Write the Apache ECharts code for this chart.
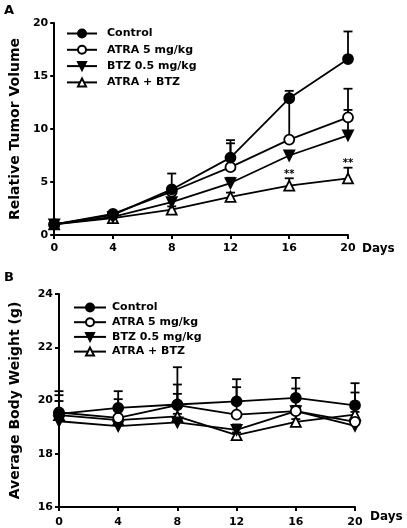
<!DOCTYPE html>
<html><head><meta charset="utf-8">
<script src="https://cdn.jsdelivr.net/npm/echarts@6/dist/echarts.min.js"></script>
<style>html,body{margin:0;padding:0;background:#fff}#c{width:407px;height:528px}</style>
</head><body><div id="c"></div>
<script>
const days = [0, 4, 8, 12, 16, 20];
const seriesNames = ['Control', 'ATRA 5 mg/kg', 'BTZ 0.5 mg/kg', 'ATRA + BTZ'];
const yTicksA = [0, 5, 10, 15, 20];
const yTicksB = [16, 18, 20, 22, 24];

// Panel A: relative tumor volume (mean, upper error)
const tumorControl = [1.0, 1.9, 4.3, 7.3, 12.9, 16.6];
const tumorControlErr = [0.1, 0.2, 1.5, 1.65, 0.7, 2.6];
const tumorAtra = [1.0, 2.0, 4.1, 6.4, 9.0, 11.1];
const tumorAtraErr = [0.1, 0.15, 0.4, 2.25, 3.9, 2.7];
const tumorBtz = [1.0, 1.7, 3.1, 4.9, 7.5, 9.4];
const tumorBtzErr = [0.1, 0.1, 0.3, 0.5, 0.4, 2.4];
const tumorCombo = [1.0, 1.6, 2.4, 3.6, 4.65, 5.35];
const tumorComboErr = [0.1, 0.1, 0.3, 0.4, 0.7, 1.0];
const tumorComboSig = ['', '', '', '', '**', '**'];

// Panel B: average body weight (g) (mean, upper error)
const weightControl = [19.5, 19.72, 19.85, 19.97, 20.1, 19.82];
const weightControlErr = [0.85, 0.63, 1.4, 0.83, 0.75, 0.83];
const weightAtra = [19.55, 19.35, 19.83, 19.47, 19.6, 19.2];
const weightAtraErr = [0.65, 0.7, 0.77, 1.03, 0.85, 1.1];
const weightBtz = [19.22, 19.04, 19.18, 18.9, 19.6, 19.05];
const weightBtzErr = [0.76, 0.3, 1.07, 0.2, 0.2, 0.15];
const weightCombo = [19.45, 19.26, 19.4, 18.7, 19.2, 19.47];
const weightComboErr = [0.1, 0.1, 0.1, 0.1, 0.1, 0.1];

const FONT = '"DejaVu Sans", "Liberation Sans", Arial, sans-serif';
const symbols = [
  {symbol: 'circle', color: '#000', rotate: 0},
  {symbol: 'circle', color: '#fff', rotate: 0},
  {symbol: 'triangle', color: '#000', rotate: 180},
  {symbol: 'triangle', color: '#fff', rotate: 0}
];

function pairs(vals) { return days.map((d, i) => [d, vals[i]]); }
function errData(vals, errs, sig) {
  return days.map((d, i) => [d, vals[i], vals[i] + errs[i], sig ? sig[i] : '']);
}
function errRender(params, api) {
  const p0 = api.coord([api.value(0), api.value(1)]);
  const p1 = api.coord([api.value(0), api.value(2)]);
  const sig = api.value(3);
  const children = [
    {type: 'line', shape: {x1: p0[0], y1: p0[1], x2: p1[0], y2: p1[1]}, style: {stroke: '#000', lineWidth: 1.8}},
    {type: 'line', shape: {x1: p1[0] - 4.5, y1: p1[1], x2: p1[0] + 4.5, y2: p1[1]}, style: {stroke: '#000', lineWidth: 1.8}}
  ];
  if (sig && sig !== '-' && sig !== '') {
    children.push({type: 'text', style: {text: sig, x: p1[0], y: p1[1] + 1, textAlign: 'center', textVerticalAlign: 'bottom', font: 'bold 10px ' + FONT, fill: '#000'}});
  }
  return {type: 'group', children: children};
}

function buildSeries(axisIdx, valsList, errsList, sigList) {
  const out = [];
  valsList.forEach((vals, k) => {
    out.push({
      type: 'custom', xAxisIndex: axisIdx, yAxisIndex: axisIdx, renderItem: errRender,
      data: errData(vals, errsList[k], sigList[k]), z: 2, silent: true,
      encode: {x: 0, y: [1, 2]}
    });
  });
  valsList.forEach((vals, k) => {
    const s = symbols[k];
    out.push({
      name: seriesNames[k], type: 'line', xAxisIndex: axisIdx, yAxisIndex: axisIdx,
      data: pairs(vals), symbol: s.symbol, symbolRotate: s.rotate, symbolSize: 10,
      showAllSymbol: true, z: 3 + (3 - k),
      lineStyle: {color: '#000', width: 1.8},
      itemStyle: {color: s.color, borderColor: '#000', borderWidth: 1.8},
      emphasis: {disabled: true}
    });
  });
  return out;
}

const axisCommon = {
  axisLine: {show: true, lineStyle: {color: '#000', width: 2}},
  axisTick: {show: true, length: 4, lineStyle: {color: '#000', width: 2}},
  axisLabel: {color: '#000', fontSize: 11, fontWeight: 'bold', fontFamily: FONT, margin: 6},
  splitLine: {show: false}
};

const option = {
  animation: false,
  backgroundColor: '#fff',
  grid: [
    {left: 52, right: 59, top: 23, bottom: 293},
    {left: 58, right: 52, top: 294, bottom: 20}
  ],
  xAxis: [0, 1].map(i => Object.assign({}, axisCommon, {
    type: 'value', gridIndex: i, min: 0, max: 20, interval: 4,
    name: 'Days', nameLocation: 'end', nameGap: i === 0 ? 14 : 15,
    nameTextStyle: {color: '#000', fontSize: 12, fontWeight: 'bold', fontFamily: FONT, verticalAlign: 'top', padding: [i === 0 ? 8 : 4, 0, 0, 0]},
    axisLabel: Object.assign({}, axisCommon.axisLabel, {margin: i === 0 ? 8 : 10, formatter: v => days.includes(v) ? String(v) : ''})
  })),
  yAxis: [
    Object.assign({}, axisCommon, {
      type: 'value', gridIndex: 0, min: yTicksA[0], max: yTicksA[yTicksA.length - 1], interval: 5,
      name: 'Relative Tumor Volume', nameLocation: 'middle', nameGap: 30,
      nameTextStyle: {color: '#000', fontSize: 14, fontWeight: 'bold', fontFamily: FONT}
    }),
    Object.assign({}, axisCommon, {
      type: 'value', gridIndex: 1, min: yTicksB[0], max: yTicksB[yTicksB.length - 1], interval: 2,
      name: 'Average Body Weight (g)', nameLocation: 'middle', nameGap: 37,
      nameTextStyle: {color: '#000', fontSize: 14, fontWeight: 'bold', fontFamily: FONT}
    })
  ],
  legend: [
    {orient: 'vertical', left: 61, top: 23, itemWidth: 30, itemHeight: 10, itemGap: 5.3,
     data: seriesNames, selectedMode: false,
     textStyle: {color: '#000', fontSize: 11, fontWeight: 'bold', fontFamily: FONT, padding: [0, 0, 0, 5]}},
    {orient: 'vertical', left: 68, top: 297, itemWidth: 32, itemHeight: 10, itemGap: 3.7,
     data: seriesNames, selectedMode: false,
     textStyle: {color: '#000', fontSize: 11, fontWeight: 'bold', fontFamily: FONT, padding: [0, 0, 0, 1]}}
  ],
  graphic: [
    {type: 'text', left: 4, top: 4, style: {text: 'A', font: 'bold 13px ' + FONT, fill: '#000'}},
    {type: 'text', left: 4, top: 271, style: {text: 'B', font: 'bold 13px ' + FONT, fill: '#000'}}
  ],
  series: [].concat(
    buildSeries(0, [tumorControl, tumorAtra, tumorBtz, tumorCombo],
      [tumorControlErr, tumorAtraErr, tumorBtzErr, tumorComboErr], [null, null, null, tumorComboSig]),
    buildSeries(1, [weightControl, weightAtra, weightBtz, weightCombo],
      [weightControlErr, weightAtraErr, weightBtzErr, weightComboErr], [null, null, null, null])
  )
};
const chart = echarts.init(document.getElementById('c'), null, {renderer: 'canvas'});
chart.setOption(option);
</script>
</body></html>
